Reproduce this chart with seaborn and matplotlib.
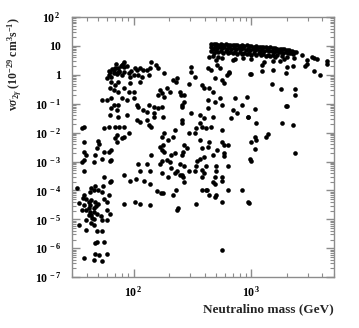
import numpy as np
import pandas as pd
import matplotlib
matplotlib.use("Agg")
import matplotlib.pyplot as plt
import seaborn as sns
from matplotlib.ticker import LogLocator, FixedLocator, FixedFormatter, NullFormatter

# values as (log10 mass [GeV], log10 sigma v [1e-29 cm^3/s])
# dense band at the top right
band_logm = [2.66, 2.68, 2.70, 2.72, 2.74, 2.76, 2.78, 2.80, 2.82, 2.84, 2.86, 2.88, 2.90, 2.92, 2.94, 2.96,
             2.98, 3.00, 3.02, 3.04, 3.06, 3.08, 3.10, 3.12, 3.14, 3.16, 3.18, 3.20, 3.22, 3.24, 3.26, 3.28,
             3.30, 3.32, 3.34, 3.36, 3.38,
             2.66, 2.67, 2.69, 2.71, 2.73, 2.75, 2.77, 2.79, 2.81, 2.83, 2.85, 2.87, 2.89, 2.91, 2.93, 2.95,
             2.97, 2.99, 3.01, 3.03, 3.05, 3.07, 3.09, 3.11, 3.13, 3.15, 3.17, 3.19, 3.21, 3.23, 3.25, 3.27,
             3.29, 3.31, 3.33, 3.35,
             2.66, 2.68, 2.70, 2.72, 2.74, 2.76, 2.78, 2.80, 2.82, 2.84, 2.86, 2.88, 2.90, 2.92, 2.94, 2.96,
             2.98, 3.00, 3.02, 3.04, 3.06, 3.08, 3.10, 3.12, 3.14, 3.16, 3.18, 3.20, 3.22, 3.26, 3.30,
             2.67, 2.72, 2.84, 2.86, 2.93, 3.00, 3.11, 3.18, 3.24, 3.28, 3.36, 3.43, 3.51, 3.53, 3.56, 3.47,
             3.64]
band_logsv = [1.07, 1.06, 1.08, 1.05, 1.07, 1.04, 1.06, 1.05, 1.03, 1.05, 1.02, 1.04, 1.01, 1.03, 1.00, 1.02,
              0.99, 1.01, 0.98, 0.99, 0.97, 0.98, 0.95, 0.96, 0.94, 0.95, 0.92, 0.93, 0.91, 0.90, 0.89, 0.88,
              0.86, 0.85, 0.83, 0.80, 0.78,
              0.96, 0.90, 0.98, 0.93, 0.97, 0.92, 0.96, 0.91, 0.95, 0.90, 0.94, 0.89, 0.93, 0.88, 0.92, 0.87,
              0.91, 0.86, 0.90, 0.85, 0.89, 0.84, 0.87, 0.83, 0.86, 0.81, 0.84, 0.80, 0.82, 0.78, 0.80, 0.76,
              0.78, 0.74, 0.76, 0.72,
              0.82, 0.76, 0.84, 0.79, 0.83, 0.77, 0.82, 0.75, 0.80, 0.74, 0.79, 0.72, 0.78, 0.71, 0.77, 0.73,
              0.76, 0.70, 0.75, 0.69, 0.74, 0.68, 0.72, 0.66, 0.70, 0.65, 0.69, 0.63, 0.67, 0.64, 0.62,
              0.66, 0.62, 0.52, 0.55, 0.60, 0.55, 0.45, 0.48, 0.47, 0.55, 0.58, 0.69, 0.62, 0.58, 0.55, 0.52,
              0.48]

# cluster around 1 at low mass, spreading down
upper_logm = [1.92, 1.90, 1.92, 1.87, 1.84, 1.83, 1.80, 1.79, 1.77, 1.81, 1.86, 1.88, 1.90, 1.92, 1.96, 1.97,
              2.00, 2.03, 2.05, 2.08, 2.04, 2.07, 2.11, 2.14, 2.15, 2.21, 2.19, 2.13, 1.81, 1.84, 1.87, 1.80,
              1.83, 1.87, 1.92, 1.97, 1.96, 2.00, 2.05, 2.22, 2.21, 1.73, 1.77, 1.81, 1.90, 1.94, 2.00, 1.83,
              1.87, 1.81, 1.86, 2.03, 2.04, 2.13, 2.17, 2.08, 2.11, 2.17, 2.21, 1.80, 1.87, 1.94, 2.03, 2.05,
              2.11, 2.17, 2.13, 2.15, 1.84, 1.79, 1.75, 1.58, 1.56, 1.88, 1.92, 1.96, 1.86, 1.92, 1.90, 1.86,
              1.84, 1.58, 1.70, 1.71, 1.75, 1.79, 1.81, 1.69, 1.58, 1.60, 1.67, 1.73, 2.15, 2.22, 2.24,
              1.85, 1.89, 1.82, 1.88, 1.91, 1.86, 1.83, 1.79, 1.94, 1.98, 2.01]
upper_logsv = [0.45, 0.34, 0.28, 0.24, 0.24, 0.17, 0.10, 0.00, -0.10, -0.07, 0.07, 0.10, 0.00, 0.10, 0.07, -0.07,
               0.00, 0.17, 0.24, 0.17, 0.00, -0.07, 0.17, 0.24, 0.45, 0.24, 0.34, 0.00, -0.24, -0.34, -0.24, -0.45,
               -0.52, -0.59, -0.45, -0.28, -0.59, -0.59, -0.24, -0.52, -0.69, -0.86, -0.86, -0.79, -0.79, -0.86, -0.79, -1.03,
               -1.03, -1.14, -1.21, -1.03, -1.10, -1.03, -1.10, -1.21, -1.28, -1.31, -1.14, -1.38, -1.45, -1.38, -1.55, -1.62,
               -1.55, -1.45, -1.72, -1.79, -1.79, -1.79, -1.83, -1.79, -1.83, -1.79, -1.79, -2.00, -2.07, -2.14, -2.17, -2.34,
               -2.17, -2.31, -2.28, -2.38, -2.66, -2.66, -2.59, -2.52, -2.66, -2.76, -2.76, -2.90, -2.76, -2.48, -2.14,
               0.38, 0.31, 0.20, 0.14, 0.36, 0.03, 0.05, 0.12, 0.30, 0.12, 0.22]

# scattered points in the middle
mid_logm = [2.64, 2.63, 2.66, 2.70, 2.75, 2.71, 2.73, 2.49, 2.49, 2.52, 2.26, 2.33, 2.37, 2.36, 2.69, 2.75,
            2.79, 2.77, 2.81, 2.58, 2.60, 2.64, 2.67, 2.28, 2.31, 2.26, 2.24, 2.39, 2.43, 2.43, 2.63, 2.73,
            2.86, 2.96, 2.75, 2.92, 2.63, 2.41, 2.41, 2.24, 2.49, 2.56, 2.60, 2.67, 2.83, 2.88, 2.97, 2.84,
            2.25, 2.41, 2.41, 2.56, 2.58, 2.61, 2.66, 2.75, 2.35, 2.26, 2.47, 2.52, 2.33, 2.29, 2.56, 2.75,
            2.77, 2.80, 2.64, 2.58, 2.63, 2.71, 2.77, 2.43, 2.45, 2.42, 2.41, 2.35, 2.32, 2.26, 2.25, 2.24,
            2.60, 2.67, 2.56, 2.77, 2.69, 2.81, 3.00, 2.40, 2.47, 2.53,
            2.99, 3.09, 3.09, 3.18, 3.29, 3.30, 3.35, 3.45, 3.47, 3.53, 3.58, 3.64, 3.17, 3.25, 3.37, 3.37,
            3.03, 2.97, 3.29, 3.30, 3.04, 3.26, 3.35, 3.03, 3.04, 3.00, 3.12, 3.14, 3.03, 3.37, 2.99]
mid_logsv = [0.62, 0.24, 0.17, 0.52, 0.59, 0.34, 0.24, 0.28, 0.10, -0.07, 0.07, -0.17, -0.10, -0.24, -0.10, -0.17,
             0.00, -0.28, 0.10, -0.34, -0.45, -0.45, -0.59, -0.45, -0.59, -0.76, -0.62, -0.59, -0.69, -0.93, -0.86, -0.79,
             -0.79, -0.76, -1.03, -1.03, -1.14, -1.03, -1.10, -1.10, -1.31, -1.38, -1.48, -1.45, -1.48, -1.31, -1.45, -1.21,
             -1.45, -1.55, -1.66, -1.66, -1.79, -1.83, -1.79, -1.90, -1.90, -2.00, -2.00, -2.00, -2.14, -2.24, -2.24, -2.31,
             -2.41, -2.41, -2.34, -2.52, -2.48, -2.59, -2.69, -2.41, -2.52, -2.66, -2.76, -2.69, -2.76, -2.66, -2.41, -2.59,
             -2.83, -2.76, -2.90, -2.80, -0.95, 0.07, 0.03, -0.70, -0.30, -1.85,
             0.03, 0.34, 0.14, 0.17, 0.07, 0.28, 0.31, 0.31, 0.38, 0.14, 0.00, 0.38, -0.31, -0.48, -0.48, -0.69,
             -1.17, -1.45, -1.07, -1.07, -1.66, -1.66, -1.72, -2.14, -2.24, -2.34, -2.14, -2.03, -2.55, -2.69, -2.90]

# lower region: 1e-3 .. 1e-7
low_logm = [1.56, 1.58, 1.58, 1.66, 1.80, 1.81, 1.52, 1.75, 1.81, 1.80, 1.64, 1.67, 1.74, 1.70, 1.73, 1.79,
            1.63, 1.66, 1.58, 1.60, 1.54, 1.62, 1.64, 1.67, 1.75, 1.77, 1.58, 1.63, 1.66, 1.70, 1.60, 1.56,
            1.63, 1.66, 1.69, 1.62, 1.64, 1.77, 1.80, 1.60, 1.66, 1.73, 1.77, 1.54, 1.64, 1.66, 1.60, 1.69,
            1.73, 1.67, 1.69, 1.75, 1.58, 1.67, 1.71, 1.77, 1.66, 1.73,
            1.92, 1.97, 2.02, 2.05, 2.04, 2.09, 2.14, 2.11, 2.14, 2.22, 2.20, 2.23, 1.92, 2.01, 2.05, 2.14,
            2.24, 2.28, 2.31, 2.32, 2.35, 2.37, 2.39, 2.41, 2.42, 2.43, 2.39, 2.43, 2.47, 2.52, 2.53, 2.54,
            2.58, 2.60, 2.61, 2.58, 2.24, 2.29, 2.25, 2.33, 2.36, 2.38, 2.37, 2.53, 2.58, 2.61, 2.62, 2.64,
            2.67, 2.69, 2.69, 2.70, 2.70, 2.70, 2.69, 2.75, 2.75, 2.80, 2.80, 2.75, 2.92, 2.97, 2.75, 3.00,
            2.98, 1.62, 1.65, 1.57, 1.68, 1.72]
low_logsv = [-3.03, -2.93, -3.31, -3.03, -2.97, -2.93, -3.93, -3.52, -3.66, -3.72, -3.93, -3.86, -3.86, -4.00, -4.07, -4.14,
             -4.07, -4.00, -4.17, -4.31, -4.45, -4.41, -4.34, -4.41, -4.31, -4.41, -4.52, -4.52, -4.59, -4.48, -4.69, -4.69,
             -4.76, -4.76, -4.83, -4.86, -4.86, -4.69, -4.83, -5.03, -5.00, -5.03, -5.03, -5.21, -5.14, -5.21, -5.38, -5.41,
             -5.41, -5.83, -5.79, -5.79, -6.34, -6.21, -6.24, -6.21, -6.41, -6.45,
             -3.45, -3.66, -3.62, -3.31, -3.10, -3.69, -3.31, -3.10, -3.79, -3.10, -4.03, -4.10, -4.48, -4.41, -4.48, -4.52,
             -2.97, -2.93, -3.03, -3.21, -3.38, -3.31, -3.45, -3.48, -3.55, -3.72, -3.10, -3.17, -3.31, -3.31, -3.14, -2.97,
             -3.28, -3.38, -3.14, -3.55, -3.38, -3.55, -4.10, -4.14, -3.97, -4.59, -4.69, -4.48, -3.97, -4.00, -3.97, -4.14,
             -3.72, -3.79, -4.24, -4.17, -3.17, -3.34, -3.55, -3.52, -3.66, -3.17, -3.97, -4.41, -4.00, -4.41, -6.07, -2.97,
             -4.45, -4.62, -4.95, -4.25, -4.55, -4.90]

logm = band_logm + upper_logm + mid_logm + low_logm
logsv = band_logsv + upper_logsv + mid_logsv + low_logsv
df = pd.DataFrame({"mass": 10 ** np.array(logm), "sigv": 10 ** np.array(logsv)})

sns.set_style("ticks")
plt.rcParams["font.family"] = ["Liberation Serif", "DejaVu Serif"]
plt.rcParams["font.weight"] = "bold"
plt.rcParams["mathtext.fontset"] = "custom"
plt.rcParams["mathtext.rm"] = "Liberation Serif:bold"
plt.rcParams["mathtext.it"] = "Liberation Serif:italic:bold"
plt.rcParams["mathtext.bf"] = "Liberation Serif:bold"

fig = plt.figure(figsize=(3.59, 3.28), dpi=100)
ax = fig.add_axes([0.2006, 0.155, 0.7294, 0.793])

sns.scatterplot(data=df, x="mass", y="sigv", ax=ax, color="black", s=11, linewidth=0, legend=False)

ax.set_xscale("log")
ax.set_yscale("log")
ax.set_xlim(30, 5000)
ax.set_ylim(1e-7, 1e2)

grey = "#8c8c8c"
for sp in ax.spines.values():
    sp.set_color(grey)
    sp.set_linewidth(1.0)

ax.xaxis.set_major_locator(FixedLocator([1e2, 1e3]))
ax.xaxis.set_major_formatter(FixedFormatter(["10$^{\\,2}$", "10$^{\\,3}$"]))
ax.xaxis.set_minor_locator(LogLocator(base=10, subs=np.arange(2, 10)))
ax.xaxis.set_minor_formatter(NullFormatter())

yt = [10.0 ** k for k in range(-7, 3)]
ylab = ["10$^{\\,-%d}$" % -k for k in range(-7, 0)] + ["1", "10", "10$^{\\,2}$"]
ax.yaxis.set_major_locator(FixedLocator(yt))
ax.yaxis.set_major_formatter(FixedFormatter(ylab))
ax.yaxis.set_minor_locator(LogLocator(base=10, subs=np.arange(2, 10), numticks=20))
ax.yaxis.set_minor_formatter(NullFormatter())

ax.tick_params(which="both", direction="in", top=True, right=True, colors=grey, labelcolor="black",
               labelsize=8.5)
ax.tick_params(which="major", length=6, width=1.0)
ax.tick_params(which="minor", length=3, width=0.8)
ax.tick_params(axis="x", pad=6)
ax.tick_params(axis="y", pad=8)

ax.set_xlabel("Neutralino mass (GeV)", fontsize=9.5, fontweight="bold", loc="right", labelpad=2)
ax.set_ylabel("v$\\sigma_{2\\gamma}$ (10$^{-29}$ cm$^{3}$s$^{-1}$)", fontsize=8.5, fontweight="bold",
              loc="top", labelpad=8)

fig.savefig("out.png", dpi=100)
